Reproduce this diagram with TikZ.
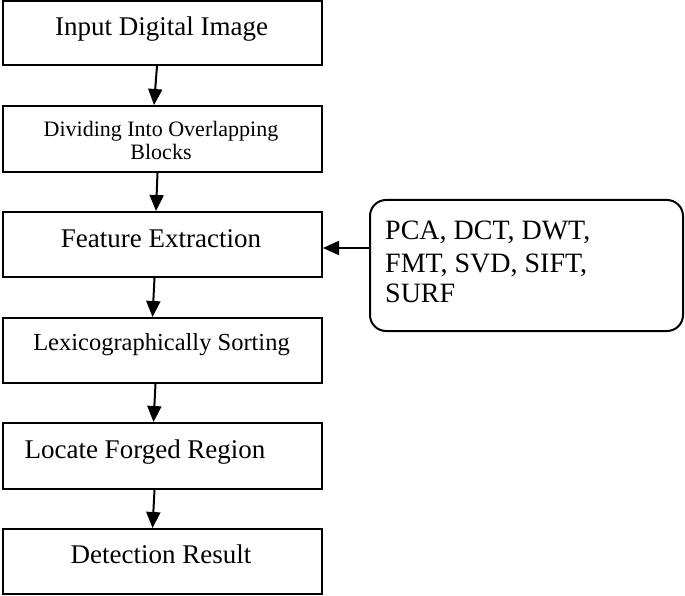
\documentclass[tikz,border=0pt]{standalone}
\usepackage{fontspec}
\setmainfont{Liberation Serif}
\usetikzlibrary{arrows.meta,calc}
\begin{document}
\begin{tikzpicture}[x=1pt,y=-1pt,
  box/.style={draw=black,line width=2pt,minimum width=319pt,inner sep=0pt},
  txt/.style={anchor=base,inner sep=0pt},
  arr/.style={line width=2pt,-{Triangle[length=16pt,width=14pt]}}]
\useasboundingbox (0,0) rectangle (685,596);
% boxes
\node[box,minimum height=64pt] (b1) at (162.5,33) {};
\node[box,minimum height=66pt] (b2) at (162.5,139) {};
\node[box,minimum height=65pt] (b3) at (162.5,244.5) {};
\node[box,minimum height=65pt] (b4) at (162.5,350.5) {};
\node[box,minimum height=66pt] (b5) at (162.5,456) {};
\node[box,minimum height=65pt] (b6) at (162.5,561.5) {};
\node[draw=black,line width=2pt,rounded corners=16pt,minimum width=313pt,minimum height=131pt,inner sep=0pt] (rb) at (526.5,265.5) {};
% texts
\node[txt,font=\fontsize{27}{31}\selectfont] (t1) at (161.5,36) {Input Digital Image};
\node[txt,font=\fontsize{22}{25}\selectfont] (t2a) at (161,137) {Dividing Into Overlapping};
\node[txt,font=\fontsize{22}{25}\selectfont] (t2b) at (161,160) {Blocks};
\node[txt,font=\fontsize{27}{31}\selectfont] (t3) at (161,247) {Feature Extraction};
\node[txt,font=\fontsize{24.5}{28}\selectfont] (t4) at (161.5,350) {Lexicographically Sorting};
\node[txt,font=\fontsize{27}{31}\selectfont] (t5) at (145,458) {Locate Forged Region};
\node[txt,font=\fontsize{27}{31}\selectfont] (t6) at (161,563) {Detection Result};
\node[anchor=base west,inner sep=0pt,font=\fontsize{28}{31}\selectfont] (r1) at (385,240) {PCA, DCT, DWT,};
\node[anchor=base west,inner sep=0pt,font=\fontsize{28}{31}\selectfont] (r2) at (385,272) {FMT, SVD, SIFT,};
\node[anchor=base west,inner sep=0pt,font=\fontsize{28}{31}\selectfont] (r3) at (385,302) {SURF};
% arrows
\draw[arr] ([xshift=-5.5pt]b1.south) -- ([xshift=-8.5pt]b2.north);
\draw[arr] ([xshift=-5pt]b2.south) -- ([xshift=-6.5pt]b3.north);
\draw[arr] ([xshift=-8pt]b3.south) -- ([xshift=-10pt]b4.north);
\draw[arr] ([xshift=-7pt]b4.south) -- ([xshift=-9pt]b5.north);
\draw[arr] ([xshift=-8pt]b5.south) -- ([xshift=-10pt]b6.north);
\draw[arr] ([yshift=17.5pt]rb.west) -- ([yshift=17.5pt]rb.west -| b3.east);
\end{tikzpicture}
\end{document}
